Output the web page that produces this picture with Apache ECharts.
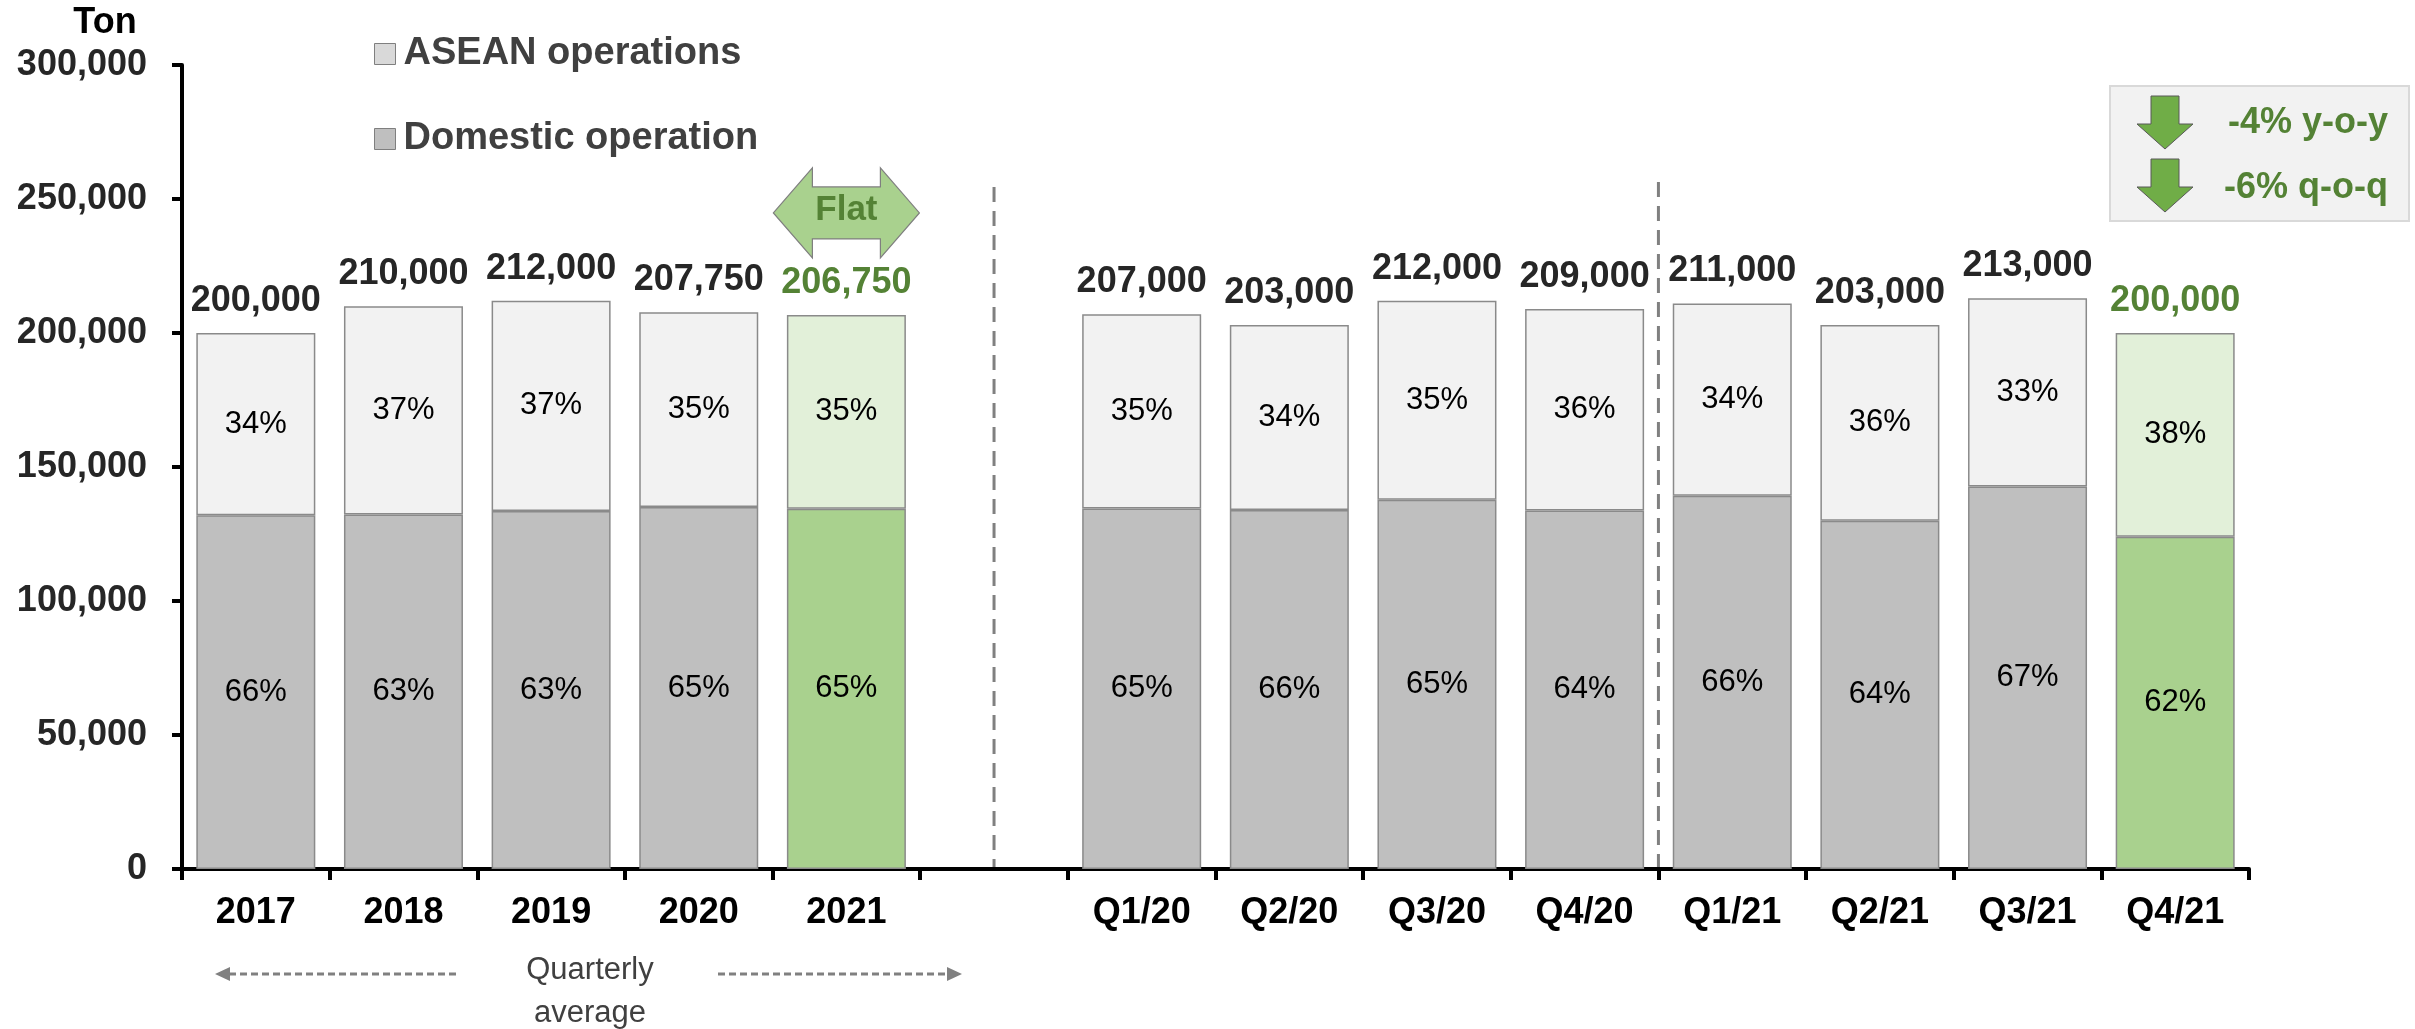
<!DOCTYPE html>
<html>
<head>
<meta charset="utf-8">
<script src="https://cdn.jsdelivr.net/npm/echarts@6/dist/echarts.min.js"></script>
<style>
  html, body { margin: 0; padding: 0; background: #ffffff; }
  #chart { width: 2415px; height: 1029px; }
</style>
</head>
<body>
<div id="chart"></div>
<script>
// Sales volume by year (quarterly average) and by quarter, split by operation
const categories  = ['2017', '2018', '2019', '2020', '2021', '', 'Q1/20', 'Q2/20', 'Q3/20', 'Q4/20', 'Q1/21', 'Q2/21', 'Q3/21', 'Q4/21'];
const totals      = [200000, 210000, 212000, 207750, 206750, null, 207000, 203000, 212000, 209000, 211000, 203000, 213000, 200000];
const domesticPct = [66, 63, 63, 65, 65, null, 65, 66, 65, 64, 66, 64, 67, 62];
const aseanPct    = [34, 37, 37, 35, 35, null, 35, 34, 35, 36, 34, 36, 33, 38];
const highlighted = ['2021', 'Q4/21'];
const yTicks      = [0, 50000, 100000, 150000, 200000, 250000, 300000];
const changeNotes = ['-4% y-o-y', '-6% q-o-q'];

const FONT = '"Liberation Sans", Arial, Helvetica, sans-serif';
const GREEN_DARK = '#548235';
const isHi = i => highlighted.indexOf(categories[i]) >= 0;
const fmt = v => String(v).replace(/\B(?=(\d{3})+(?!\d))/g, ',');

const domesticData = categories.map((c, i) => totals[i] == null ? '-' : {
  value: totals[i] * domesticPct[i] / 100,
  itemStyle: isHi(i) ? { color: '#A9D18E' } : undefined
});
const aseanData = categories.map((c, i) => totals[i] == null ? '-' : {
  value: totals[i] * aseanPct[i] / 100,
  itemStyle: isHi(i) ? { color: '#E2F0D9' } : undefined
});
const totalData = categories.map((c, i) => totals[i] == null ? '-' : {
  value: totals[i],
  label: { color: isHi(i) ? GREEN_DARK : '#262626' }
});

const pctLabel = arr => ({
  show: true,
  position: 'inside',
  fontFamily: FONT,
  fontSize: 31,
  color: '#000000',
  formatter: p => arr[p.dataIndex] + '%'
});

const barStyle = { borderColor: '#8a8a8a', borderWidth: 1.5 };

const chart = echarts.init(document.getElementById('chart'), null, { renderer: 'canvas' });

chart.setOption({
  animation: false,
  backgroundColor: '#ffffff',
  textStyle: { fontFamily: FONT },
  grid: { left: 182, right: 166, top: 65, bottom: 160, containLabel: false },
  legend: {
    orient: 'vertical',
    left: 374,
    top: 34,
    padding: 0,
    itemGap: 45,
    itemWidth: 21,
    itemHeight: 21,
    icon: 'rect',
    selectedMode: false,
    textStyle: {
      fontFamily: FONT, fontSize: 38, fontWeight: 'bold', color: '#404040',
      lineHeight: 40, padding: [0, 0, 0, 3]
    },
    data: [
      { name: 'ASEAN operations', itemStyle: { color: '#D9D9D9', borderColor: '#7f7f7f', borderWidth: 1 } },
      { name: 'Domestic operation', itemStyle: { color: '#BFBFBF', borderColor: '#7f7f7f', borderWidth: 1 } }
    ]
  },
  xAxis: {
    type: 'category',
    data: categories,
    boundaryGap: true,
    axisLine: { show: true, lineStyle: { color: '#000000', width: 4 } },
    axisTick: { show: true, interval: 0, length: 11, lineStyle: { color: '#000000', width: 4 } },
    axisLabel: {
      interval: 0, margin: 26,
      fontFamily: FONT, fontSize: 36, fontWeight: 'bold', color: '#000000'
    },
    splitLine: { show: false }
  },
  yAxis: {
    type: 'value',
    min: yTicks[0],
    max: yTicks[yTicks.length - 1],
    interval: yTicks[1] - yTicks[0],
    axisLine: { show: true, lineStyle: { color: '#000000', width: 4 } },
    axisTick: { show: true, length: 10, lineStyle: { color: '#000000', width: 4 } },
    axisLabel: {
      margin: 35,
      fontFamily: FONT, fontSize: 36, fontWeight: 'bold', color: '#262626',
      formatter: v => fmt(v)
    },
    splitLine: { show: false }
  },
  series: [
    {
      name: 'Domestic operation',
      type: 'bar',
      stack: 'volume',
      barWidth: 119,
      data: domesticData,
      itemStyle: Object.assign({ color: '#BFBFBF' }, barStyle),
      label: pctLabel(domesticPct)
    },
    {
      name: 'ASEAN operations',
      type: 'bar',
      stack: 'volume',
      barWidth: 119,
      data: aseanData,
      itemStyle: Object.assign({ color: '#F2F2F2' }, barStyle),
      label: pctLabel(aseanPct)
    },
    {
      name: 'Total',
      type: 'scatter',
      symbolSize: 0,
      data: totalData,
      silent: true,
      itemStyle: { opacity: 1 },
      label: {
        show: true,
        position: 'top',
        distance: 14,
        opacity: 1,
        fontFamily: FONT,
        fontSize: 36,
        fontWeight: 'bold',
        formatter: p => fmt(p.value)
      }
    }
  ]
});

// Annotations positioned from the axes
const cx = i => chart.convertToPixel({ xAxisIndex: 0 }, i);
const cy = v => chart.convertToPixel({ yAxisIndex: 0 }, v);
const y0 = cy(0);

const sep1 = cx(5);
const sep2 = (cx(9) + cx(10)) / 2;

const flatX = cx(4);
const flatY = cy(totals[4]) - 102;
const flatPts = [[-73, 0], [-34, -45], [-34, -26], [34, -26], [34, -45], [73, 0], [34, 45], [34, 26], [-34, 26], [-34, 45]]
  .map(p => [flatX + p[0], flatY + p[1]]);

const downArrow = (x, top) => [[-14, 0], [14, 0], [14, 28], [28, 28], [0, 53], [-28, 28], [-14, 28]]
  .map(p => [x + p[0], top + p[1]]);

const arrowY = 974;
const grey = '#808080';

chart.setOption({
  graphic: [
    // unit
    { type: 'text', x: 105, y: 23, style: {
      text: 'Ton', fontFamily: FONT, fontSize: 36, fontWeight: 'bold', fill: '#000000',
      textAlign: 'center', textVerticalAlign: 'middle' } },
    // section separators
    { type: 'line', shape: { x1: sep1, y1: 187, x2: sep1, y2: y0 - 2 },
      style: { stroke: grey, lineWidth: 3, lineDash: [15, 9] } },
    { type: 'line', shape: { x1: sep2, y1: 182, x2: sep2, y2: y0 - 2 },
      style: { stroke: grey, lineWidth: 3, lineDash: [15, 9] } },
    // "Flat" double arrow over 2021
    { type: 'polygon', shape: { points: flatPts },
      style: { fill: '#A9D18E', stroke: '#7f7f7f', lineWidth: 1.2 } },
    { type: 'text', x: flatX, y: flatY - 3, style: {
      text: 'Flat', fontFamily: FONT, fontSize: 35, fontWeight: 'bold', fill: GREEN_DARK,
      textAlign: 'center', textVerticalAlign: 'middle' } },
    // change box
    { type: 'rect', shape: { x: 2110, y: 86, width: 299, height: 135 },
      style: { fill: '#F2F2F2', stroke: '#D9D9D9', lineWidth: 2 } },
    { type: 'polygon', shape: { points: downArrow(2165, 96) },
      style: { fill: '#70AD47', stroke: '#595959', lineWidth: 1 } },
    { type: 'polygon', shape: { points: downArrow(2165, 159) },
      style: { fill: '#70AD47', stroke: '#595959', lineWidth: 1 } },
    { type: 'text', x: 2388, y: 123, style: {
      text: changeNotes[0], fontFamily: FONT, fontSize: 36, fontWeight: 'bold', fill: GREEN_DARK,
      textAlign: 'right', textVerticalAlign: 'middle' } },
    { type: 'text', x: 2388, y: 188, style: {
      text: changeNotes[1], fontFamily: FONT, fontSize: 36, fontWeight: 'bold', fill: GREEN_DARK,
      textAlign: 'right', textVerticalAlign: 'middle' } },
    // quarterly average note
    { type: 'line', shape: { x1: 229, y1: arrowY, x2: 459, y2: arrowY },
      style: { stroke: grey, lineWidth: 3, lineDash: [7, 4] } },
    { type: 'polygon', shape: { points: [[215, arrowY], [230, arrowY - 7], [230, arrowY + 7]] },
      style: { fill: grey } },
    { type: 'line', shape: { x1: 718, y1: arrowY, x2: 948, y2: arrowY },
      style: { stroke: grey, lineWidth: 3, lineDash: [7, 4] } },
    { type: 'polygon', shape: { points: [[962, arrowY], [947, arrowY - 7], [947, arrowY + 7]] },
      style: { fill: grey } },
    { type: 'text', x: 590, y: 970, style: {
      text: 'Quarterly', fontFamily: FONT, fontSize: 31, fill: '#404040',
      textAlign: 'center', textVerticalAlign: 'middle' } },
    { type: 'text', x: 590, y: 1013, style: {
      text: 'average', fontFamily: FONT, fontSize: 31, fill: '#404040',
      textAlign: 'center', textVerticalAlign: 'middle' } }
  ]
});
</script>
</body>
</html>
